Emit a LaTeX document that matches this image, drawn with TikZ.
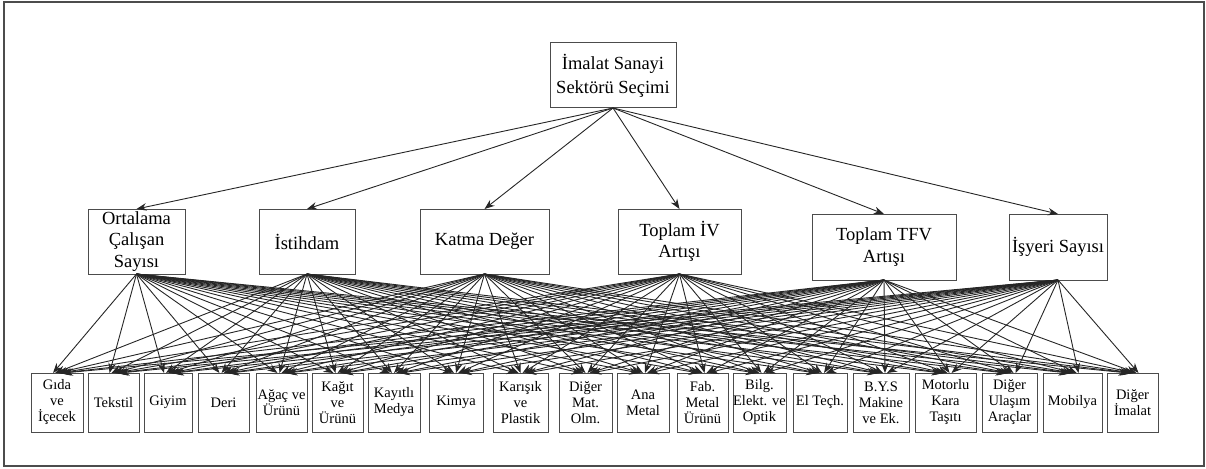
\documentclass[tikz,border=0pt]{standalone}
\usepackage{fontspec}
\setmainfont{Liberation Serif}
\usetikzlibrary{positioning, arrows.meta}

\begin{document}
\begin{tikzpicture}[x=1pt,y=-1pt,->,>={Stealth[length=10pt,width=7.5pt]},line width=0.8pt,
    goalbox/.style={draw=black!70,line width=1pt,align=center,inner sep=0pt,outer sep=0pt,
      minimum width=126pt,minimum height=65pt,font=\fontsize{18.5}{24}\selectfont},
    critbox/.style={draw=black!70,line width=1pt,align=center,inner sep=0pt,outer sep=0pt,
      minimum height=65pt,font=\fontsize{18.5}{21.5}\selectfont},
    altbox/.style={draw=black!70,line width=1pt,align=center,inner sep=0pt,outer sep=0pt,
      minimum height=59pt,font=\fontsize{14.5}{16}\selectfont},
    link/.style={draw=black!85,line width=0.9pt}]
            \useasboundingbox (0,0) rectangle (1206,468);
            \draw[-,draw=black!70,line width=1.8pt] (4,2) rectangle (1204,466);
            % goal
            \node[goalbox] (goal) at (613,75.5) {İmalat Sanayi\\Sektörü Seçimi};
            % criteria
            \node[critbox,minimum width=97pt] (ort) at (136.5,241.5) {Ortalama\\Çalışan\\Sayısı};
            \node[critbox,minimum width=96pt] (ist) at (307,241.5) {İstihdam};
            \node[critbox,minimum width=129pt] (katma) at (484.5,241.5) {Katma Değer};
            \node[critbox,minimum width=123pt] (iv) at (679.5,241.5) {Toplam İV\\Artışı};
            \node[critbox,minimum width=144pt,minimum height=66pt] (tfv) at (884,247) {Toplam TFV\\Artışı};
            \node[critbox,minimum width=98pt,minimum height=66pt] (isyeri) at (1058,247) {İşyeri Sayısı};
            % alternatives
            \node[altbox,minimum width=52pt] (gida) at (57,402.5) {Gıda\\ve\\İçecek};
            \node[altbox,minimum width=51pt] (tekstil) [right=5pt of gida] {Tekstil};
            \node[altbox,minimum width=48pt] (giyim) [right=5pt of tekstil] {Giyim};
            \node[altbox,minimum width=51pt] (deri) [right=6pt of giyim] {Deri};
            \node[altbox,minimum width=51pt] (agac) [right=7pt of deri] {Ağaç ve\\Ürünü};
            \node[altbox,minimum width=51pt] (kagit) [right=5pt of agac] {Kağıt\\ve\\Ürünü};
            \node[altbox,minimum width=52pt] (kayitli) [right=5pt of kagit] {Kayıtlı\\Medya};
            \node[altbox,minimum width=54pt] (kimya) [right=9pt of kayitli] {Kimya};
            \node[altbox,minimum width=55pt] (karisik) [right=10pt of kimya] {Karışık\\ve\\Plastik};
            \node[altbox,minimum width=53pt] (digermat) [right=11pt of karisik] {Diğer\\Mat.\\Olm.};
            \node[altbox,minimum width=52pt] (anametal) [right=5pt of digermat] {Ana\\Metal};
            \node[altbox,minimum width=51pt] (fabmetal) [right=8pt of anametal] {Fab.\\Metal\\Ürünü};
            \node[altbox,minimum width=53pt] (bilg) [right=5pt of fabmetal] {Bilg.\\Elekt. ve\\Optik};
            \node[altbox,minimum width=54pt] (eltech) [right=7pt of bilg] {El Teçh.};
            \node[altbox,minimum width=56pt] (bys) [right=6pt of eltech] {B.Y.S\\Makine\\ve Ek.};
            \node[altbox,minimum width=61pt] (motorlu) [right=6pt of bys] {Motorlu\\Kara\\Taşıtı};
            \node[altbox,minimum width=55pt] (digerul) [right=6pt of motorlu] {Diğer\\Ulaşım\\Araçlar};
            \node[altbox,minimum width=59pt] (mobilya) [right=6pt of digerul] {Mobilya};
            \node[altbox,minimum width=51pt] (digerim) [right=5pt of mobilya] {Diğer\\İmalat};
            % goal -> criteria
            \foreach \c in {ort,ist,katma,iv,tfv,isyeri}
                \draw[link] (goal.south) -- (\c.north);
            % criteria -> alternatives
            \foreach \c/\dx in {ort/-4,ist/-2,katma/0,iv/2,tfv/4,isyeri/6}
                \foreach \a in {gida,tekstil,giyim,deri,agac,kagit,kayitli,kimya,karisik,digermat,
                    anametal,fabmetal,bilg,eltech,bys,motorlu,digerul,mobilya,digerim}
                    \draw[link] (\c.south) -- ([xshift=\dx pt]\a.north);
        \end{tikzpicture}
\end{document}
